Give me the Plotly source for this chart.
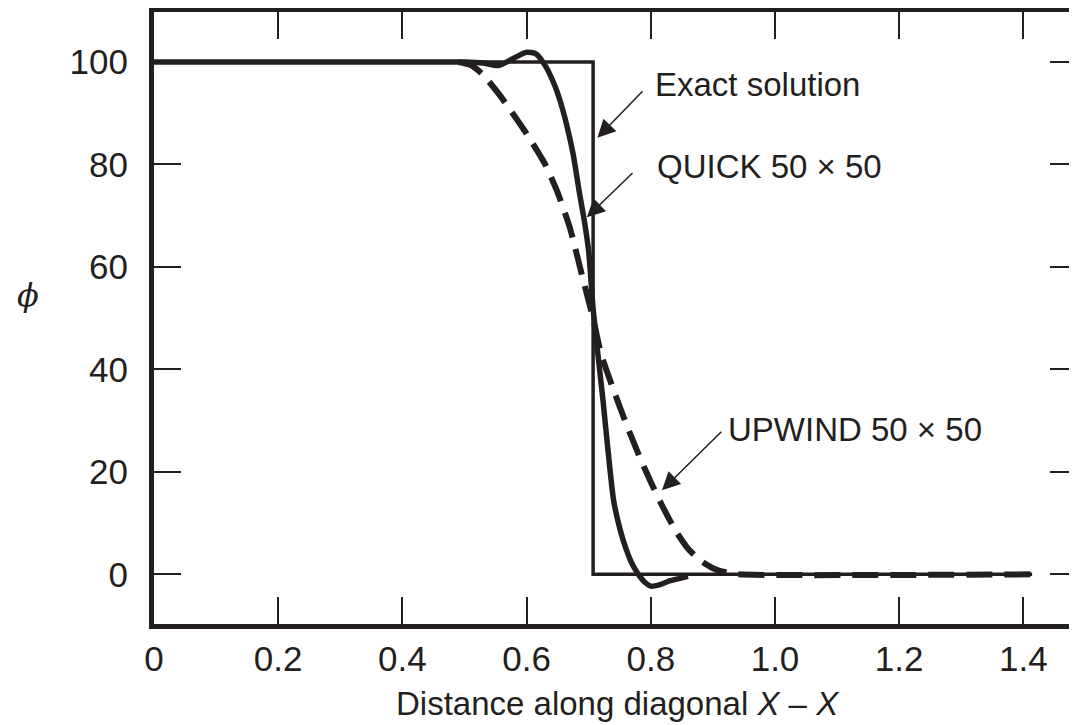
import plotly.graph_objects as go

# ---- data ----
exact_x = [0.0, 0.7071, 0.7071, 1.414]
exact_y = [100, 100, 0, 0]

quick_x = [0.0, 0.50, 0.53, 0.555, 0.58, 0.60, 0.615, 0.63, 0.645, 0.655, 0.665, 0.675,
           0.685, 0.693, 0.700, 0.707, 0.713, 0.718, 0.723, 0.730, 0.740, 0.750, 0.760,
           0.770, 0.780, 0.790, 0.800, 0.815, 0.830, 0.860]
quick_y = [100, 100, 99.8, 99.3, 100.8, 101.9, 101.6, 99.3, 95.5, 92, 87.5, 82,
           74.5, 69, 63, 52, 45, 39.5, 34, 25.5, 14.5, 9, 5,
           2, 0, -1.5, -2.3, -2, -1.3, -0.4]

upwind_x = [0.49, 0.51, 0.53, 0.56, 0.60, 0.63, 0.65, 0.67, 0.69, 0.707, 0.72, 0.74,
            0.76, 0.78, 0.80, 0.82, 0.84, 0.86, 0.88, 0.90, 0.92, 0.94, 1.414]
upwind_y = [100, 99.4, 97.5, 93, 86, 80, 74.5, 67.5, 58, 50, 43, 36,
            29.5, 23.5, 18, 13, 8.5, 5, 2.7, 1.2, 0.4, 0, 0]

x_ticks = [0, 0.2, 0.4, 0.6, 0.8, 1.0, 1.2, 1.4]
x_ticktext = ["0", "0.2", "0.4", "0.6", "0.8", "1.0", "1.2", "1.4"]
y_ticks = [0, 20, 40, 60, 80, 100]

labels = ["Exact solution", "QUICK 50 \u00d7 50", "UPWIND 50 \u00d7 50"]
label_pos = [(0.803, 95.6), (0.807, 79.6), (0.921, 28.3)]      # text left edge / centre (data)
arrow_head = [(0.714, 85.2), (0.697, 69.7), (0.818, 16.4)]
arrow_tail = [(0.789, 94.6), (0.773, 78.6), (0.916, 28.1)]

# ---- style ----
INK = "#231f20"
FONT = "Liberation Sans, Arial, sans-serif"
OFF = 8                      # default body margin of the html page
W, H = 1077 - OFF, 725 - OFF
L, R, T, B = 154 - OFF, 1077 - OFF, 12 - OFF, 624 - OFF

fig = go.Figure()
fig.add_trace(go.Scatter(x=exact_x, y=exact_y, mode="lines",
                         line=dict(color=INK, width=3.5), hoverinfo="skip"))
fig.add_trace(go.Scatter(x=quick_x, y=quick_y, mode="lines",
                         line=dict(color=INK, width=5.5, shape="spline", smoothing=0.6),
                         hoverinfo="skip"))
fig.add_trace(go.Scatter(x=upwind_x, y=upwind_y, mode="lines",
                         line=dict(color=INK, width=6, dash="26px,12px",
                                   shape="spline", smoothing=0.6),
                         hoverinfo="skip"))

def px2paper_x(px):
    return (px - OFF - L) / (R - L)

def px2paper_y(py):
    return (B - (py - OFF)) / (B - T)

annotations = []
for txt, (tx, ty) in zip(labels, label_pos):
    annotations.append(dict(x=tx, y=ty, xref="x", yref="y", text=txt, showarrow=False,
                            xanchor="left", yanchor="middle",
                            font=dict(family=FONT, size=33, color=INK)))
for (hx, hy), (tx, ty) in zip(arrow_head, arrow_tail):
    annotations.append(dict(x=hx, y=hy, xref="x", yref="y", ax=tx, ay=ty,
                            axref="x", ayref="y", text="", showarrow=True,
                            arrowhead=2, arrowsize=2.4, arrowwidth=1.5,
                            arrowcolor=INK, standoff=0))
annotations.append(dict(x=px2paper_x(618), y=px2paper_y(703), xref="paper", yref="paper",
                        text="Distance along diagonal <i>X</i> \u2013 <i>X</i>",
                        showarrow=False, xanchor="center", yanchor="middle",
                        font=dict(family=FONT, size=33, color=INK)))
annotations.append(dict(x=px2paper_x(28), y=px2paper_y(295), xref="paper", yref="paper",
                        text="<i>\u03d5</i>", showarrow=False, xanchor="center",
                        yanchor="middle",
                        font=dict(family="DejaVu Serif, serif", size=32, color=INK)))

axis_common = dict(showgrid=False, zeroline=False, showline=True, linewidth=5,
                   linecolor=INK, mirror="ticks", ticks="inside", ticklen=27,
                   tickwidth=2, tickcolor=INK,
                   tickfont=dict(family=FONT, size=35, color=INK))

fig.update_layout(
    width=W, height=H,
    margin=dict(l=L, r=W - R, t=T, b=H - B, autoexpand=False),
    paper_bgcolor="white", plot_bgcolor="white",
    showlegend=False,
    xaxis=dict(range=[0, (R - L) / 621.0], tickvals=x_ticks, ticktext=x_ticktext,
               ticklabelstandoff=0, **axis_common),
    yaxis=dict(range=[-9.7, 109.76], tickvals=y_ticks, ticklabelstandoff=14,
               **axis_common),
    annotations=annotations,
)

fig.write_html("out.html")
